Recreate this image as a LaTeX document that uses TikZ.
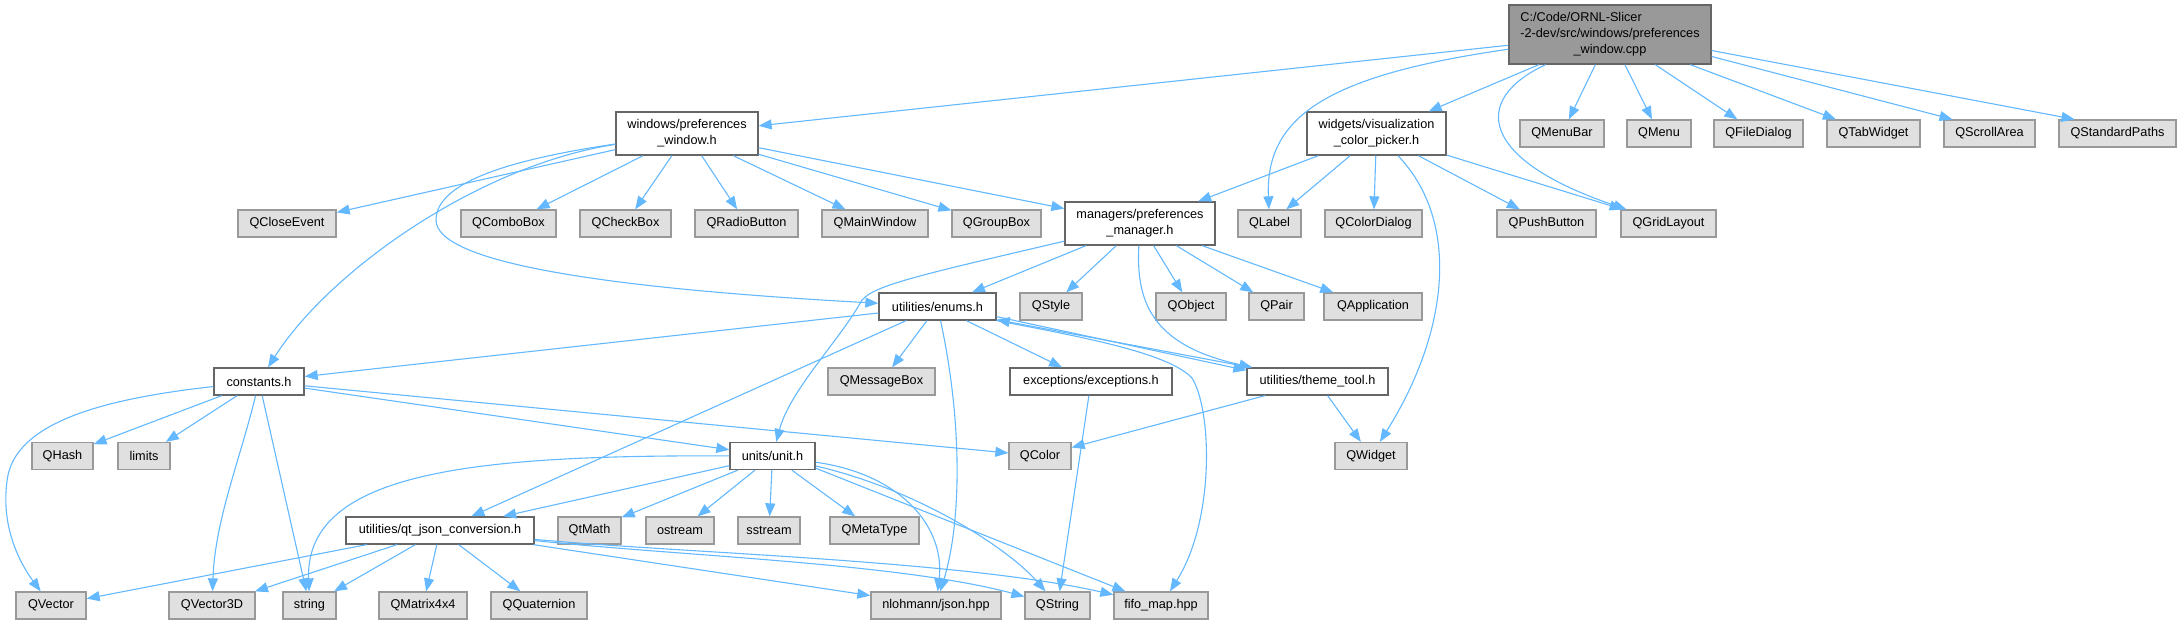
\documentclass[tikz,border=0pt]{standalone}
\usepackage{fontspec}
\setmainfont{Liberation Sans}
\usetikzlibrary{arrows.meta}
\definecolor{edgecol}{HTML}{63B8FF}
\definecolor{extfill}{HTML}{E0E0E0}
\definecolor{extdraw}{HTML}{999999}
\definecolor{intdraw}{HTML}{666666}
\definecolor{mainfill}{HTML}{999999}
\tikzset{
  box/.style={rectangle, inner sep=0pt, line width=1.3pt, font=\fontsize{12.7}{16}\selectfont, align=center},
  ext/.style={box, draw=extdraw, fill=extfill, minimum height=27pt},
  int/.style={box, draw=intdraw, fill=white, minimum height=27pt},
  int2/.style={box, draw=intdraw, fill=white, minimum height=43pt},
  mainbox/.style={box, draw=intdraw, fill=mainfill, minimum height=59pt},
  edge/.style={draw=edgecol, line width=1.1pt, -{Triangle[length=13pt,width=10pt]}}
}
\begin{document}
\begin{tikzpicture}[x=1pt,y=-1pt]
\useasboundingbox (0,0) rectangle (2182,624);
% row 1
\node[mainbox, minimum width=202pt] (main) at (1610,34.5)
  {\begin{tabular}{@{}l@{}}C:/Code/ORNL-Slicer\\-2-dev/src/windows/preferences\\\multicolumn{1}{@{}c@{}}{\_window.cpp}\end{tabular}};
% row 2
\node[int2, minimum width=142pt] (winh) at (687,133.5) {windows/preferences\\\_window.h};
\node[int2, minimum width=139pt] (widgets) at (1376.5,133.5) {widgets/visualization\\\_color\_picker.h};
\node[ext, minimum width=84pt] (QMenuBar) at (1562,133.5) {QMenuBar};
\node[ext, minimum width=64pt] (QMenu) at (1659,133.5) {QMenu};
\node[ext, minimum width=89pt] (QFileDialog) at (1758.5,133.5) {QFileDialog};
\node[ext, minimum width=93pt] (QTabWidget) at (1873.5,133.5) {QTabWidget};
\node[ext, minimum width=91pt] (QScrollArea) at (1989.5,133.5) {QScrollArea};
\node[ext, minimum width=117pt] (QStandardPaths) at (2117.5,133.5) {QStandardPaths};
% row 3
\node[ext, minimum width=98pt] (QCloseEvent) at (287,223.5) {QCloseEvent};
\node[ext, minimum width=95pt] (QComboBox) at (508.5,223.5) {QComboBox};
\node[ext, minimum width=91pt] (QCheckBox) at (625.5,223.5) {QCheckBox};
\node[ext, minimum width=103pt] (QRadioButton) at (746.5,223.5) {QRadioButton};
\node[ext, minimum width=106pt] (QMainWindow) at (875,223.5) {QMainWindow};
\node[ext, minimum width=89pt] (QGroupBox) at (996.5,223.5) {QGroupBox};
\node[int2, minimum width=150pt] (manager) at (1140,223.5) {managers/preferences\\\_manager.h};
\node[ext, minimum width=63pt] (QLabel) at (1269.5,223.5) {QLabel};
\node[ext, minimum width=97pt] (QColorDialog) at (1373.5,223.5) {QColorDialog};
\node[ext, minimum width=99pt] (QPushButton) at (1546.5,223.5) {QPushButton};
\node[ext, minimum width=95pt] (QGridLayout) at (1668.5,223.5) {QGridLayout};
% row 4
\node[int, minimum width=117pt] (enums) at (937.5,306.5) {utilities/enums.h};
\node[ext, minimum width=62pt] (QStyle) at (1051,306.5) {QStyle};
\node[ext, minimum width=70pt] (QObject) at (1191,306.5) {QObject};
\node[ext, minimum width=55pt] (QPair) at (1276.5,306.5) {QPair};
\node[ext, minimum width=98pt] (QApplication) at (1373,306.5) {QApplication};
% row 5
\node[int, minimum width=90pt] (constants) at (259,381.5) {constants.h};
\node[ext, minimum width=107pt] (QMessageBox) at (881.5,381.5) {QMessageBox};
\node[int, minimum width=162pt] (exceptions) at (1091,381.5) {exceptions/exceptions.h};
\node[int, minimum width=141pt] (theme) at (1317.5,381.5) {utilities/theme\_tool.h};
% row 6
\node[ext, minimum width=61pt] (QHash) at (62.5,456) {QHash};
\node[ext, minimum width=52pt] (limits) at (144,456) {limits};
\node[int, minimum width=85pt] (unit) at (772.5,456) {units/unit.h};
\node[ext, minimum width=62pt] (QColor) at (1040,456) {QColor};
\node[ext, minimum width=72pt] (QWidget) at (1371,456) {QWidget};
% row 7
\node[int, minimum width=188pt] (qtjson) at (440,530.5) {utilities/qt\_json\_conversion.h};
\node[ext, minimum width=63pt] (QtMath) at (589.5,530.5) {QtMath};
\node[ext, minimum width=68pt] (ostream) at (680,530.5) {ostream};
\node[ext, minimum width=62pt] (sstream) at (769,530.5) {sstream};
\node[ext, minimum width=89pt] (QMetaType) at (874.5,530.5) {QMetaType};
% row 8
\node[ext, minimum width=70pt] (QVector) at (51,605.5) {QVector};
\node[ext, minimum width=86pt] (QVector3D) at (212,605.5) {QVector3D};
\node[ext, minimum width=53pt] (string) at (309.5,605.5) {string};
\node[ext, minimum width=88pt] (QMatrix4x4) at (423,605.5) {QMatrix4x4};
\node[ext, minimum width=96pt] (QQuaternion) at (539,605.5) {QQuaternion};
\node[ext, minimum width=130pt] (nlohmann) at (936,605.5) {nlohmann/json.hpp};
\node[ext, minimum width=65pt] (QString) at (1057.5,605.5) {QString};
\node[ext, minimum width=94pt] (fifo) at (1161,605.5) {fifo\_map.hpp};

% edges from main
\draw[edge] (main) -- (winh);
\draw[edge] (main) .. controls (1330,75) and (1265,115) .. (QLabel);
\draw[edge] (main) -- (widgets);
\draw[edge] (main) .. controls (1470,100) and (1480,160) .. (QGridLayout);
\draw[edge] (main) -- (QMenuBar);
\draw[edge] (main) -- (QMenu);
\draw[edge] (main) -- (QFileDialog);
\draw[edge] (main) -- (QTabWidget);
\draw[edge] ([yshift=-22pt]main.east) -- ([xshift=-37pt]QScrollArea.north);
\draw[edge] ([yshift=-16pt]main.east) -- ([xshift=-43pt]QStandardPaths.north);
% edges from windows/preferences_window.h
\draw[edge] (winh) -- (QCloseEvent);
\draw[edge] (winh) .. controls (480,165) and (330,270) .. (constants);
\draw[edge] (winh) .. controls (520,158) and (436,180) .. (436,220) .. controls (436,262) and (600,288) .. (enums);
\draw[edge] (winh) -- (QComboBox);
\draw[edge] (winh) -- (QCheckBox);
\draw[edge] (winh) -- (QRadioButton);
\draw[edge] (winh) -- (QMainWindow);
\draw[edge] (winh) -- (QGroupBox);
\draw[edge] (winh) -- (manager);
% edges from widgets/visualization_color_picker.h
\draw[edge] (widgets) -- (manager);
\draw[edge] (widgets) -- (QLabel);
\draw[edge] (widgets) -- (QColorDialog);
\draw[edge] (widgets) .. controls (1460,220) and (1450,330) .. (QWidget);
\draw[edge] (widgets) -- (QPushButton);
\draw[edge] (widgets) -- (QGridLayout);
% edges from managers/preferences_manager.h
\draw[edge] (manager) -- (enums);
\draw[edge] (manager) -- (QStyle);
\draw[edge] (manager) -- (QObject);
\draw[edge] (manager) -- (QPair);
\draw[edge] (manager) -- (QApplication);
\draw[edge] (manager) .. controls (920,275) and (875,285) .. (862,300) .. controls (840,340) and (790,390) .. (unit);
\draw[edge] (manager) .. controls (1136,300) and (1150,345) .. ([xshift=6pt]theme.north west);
% edges from utilities/enums.h
\draw[edge] (enums) -- (constants);
\draw[edge] (enums) -- (QMessageBox);
\draw[edge] (enums) -- (exceptions);
\draw[edge] ([yshift=4pt]enums.south east) -- ([yshift=-3pt]theme.north west);
\draw[edge] (enums) -- (qtjson);
\draw[edge] (enums) .. controls (962,420) and (962,520) .. (nlohmann);
\draw[edge] (enums.south east) .. controls (1100,340) and (1170,355) .. (1192,378) .. controls (1212,410) and (1215,520) .. (fifo);
% edges from constants.h
\draw[edge] (constants) .. controls (110,398) and (20,420) .. (8,475) .. controls (-2,530) and (25,570) .. (QVector);
\draw[edge] (constants) -- (QHash);
\draw[edge] (constants) -- (limits);
\draw[edge] (constants) .. controls (240,460) and (215,520) .. (QVector3D);
\draw[edge] (constants) -- (string);
\draw[edge] (constants) -- (unit);
\draw[edge] (constants) -- (QColor);
% edges from units/unit.h
\draw[edge] (unit) .. controls (480,455) and (305,470) .. (string);
\draw[edge] (unit) -- (qtjson);
\draw[edge] (unit) -- (QtMath);
\draw[edge] (unit) -- (ostream);
\draw[edge] (unit) -- (sstream);
\draw[edge] (unit) -- (QMetaType);
\draw[edge] (unit) .. controls (905,475) and (945,530) .. (nlohmann);
\draw[edge] (unit) .. controls (920,490) and (1010,550) .. (QString);
\draw[edge] ([yshift=2pt]unit.south east) -- (fifo);
% edges from utilities/qt_json_conversion.h
\draw[edge] (qtjson) -- (QVector);
\draw[edge] (qtjson) -- (QVector3D);
\draw[edge] (qtjson) -- (string);
\draw[edge] (qtjson) -- (QMatrix4x4);
\draw[edge] (qtjson) -- (QQuaternion);
\draw[edge] (qtjson) -- (nlohmann);
\draw[edge] (qtjson) .. controls (680,556) and (900,563) .. (QString);
\draw[edge] (qtjson) .. controls (680,553) and (960,560) .. (fifo);
% other edges
\draw[edge] (exceptions) -- (QString);
\draw[edge] (theme) -- (QColor);
\draw[edge] (theme) -- (QWidget);
\draw[edge] ([xshift=4pt]theme.north west) -- ([yshift=1pt]enums.south east);
\end{tikzpicture}
\end{document}
